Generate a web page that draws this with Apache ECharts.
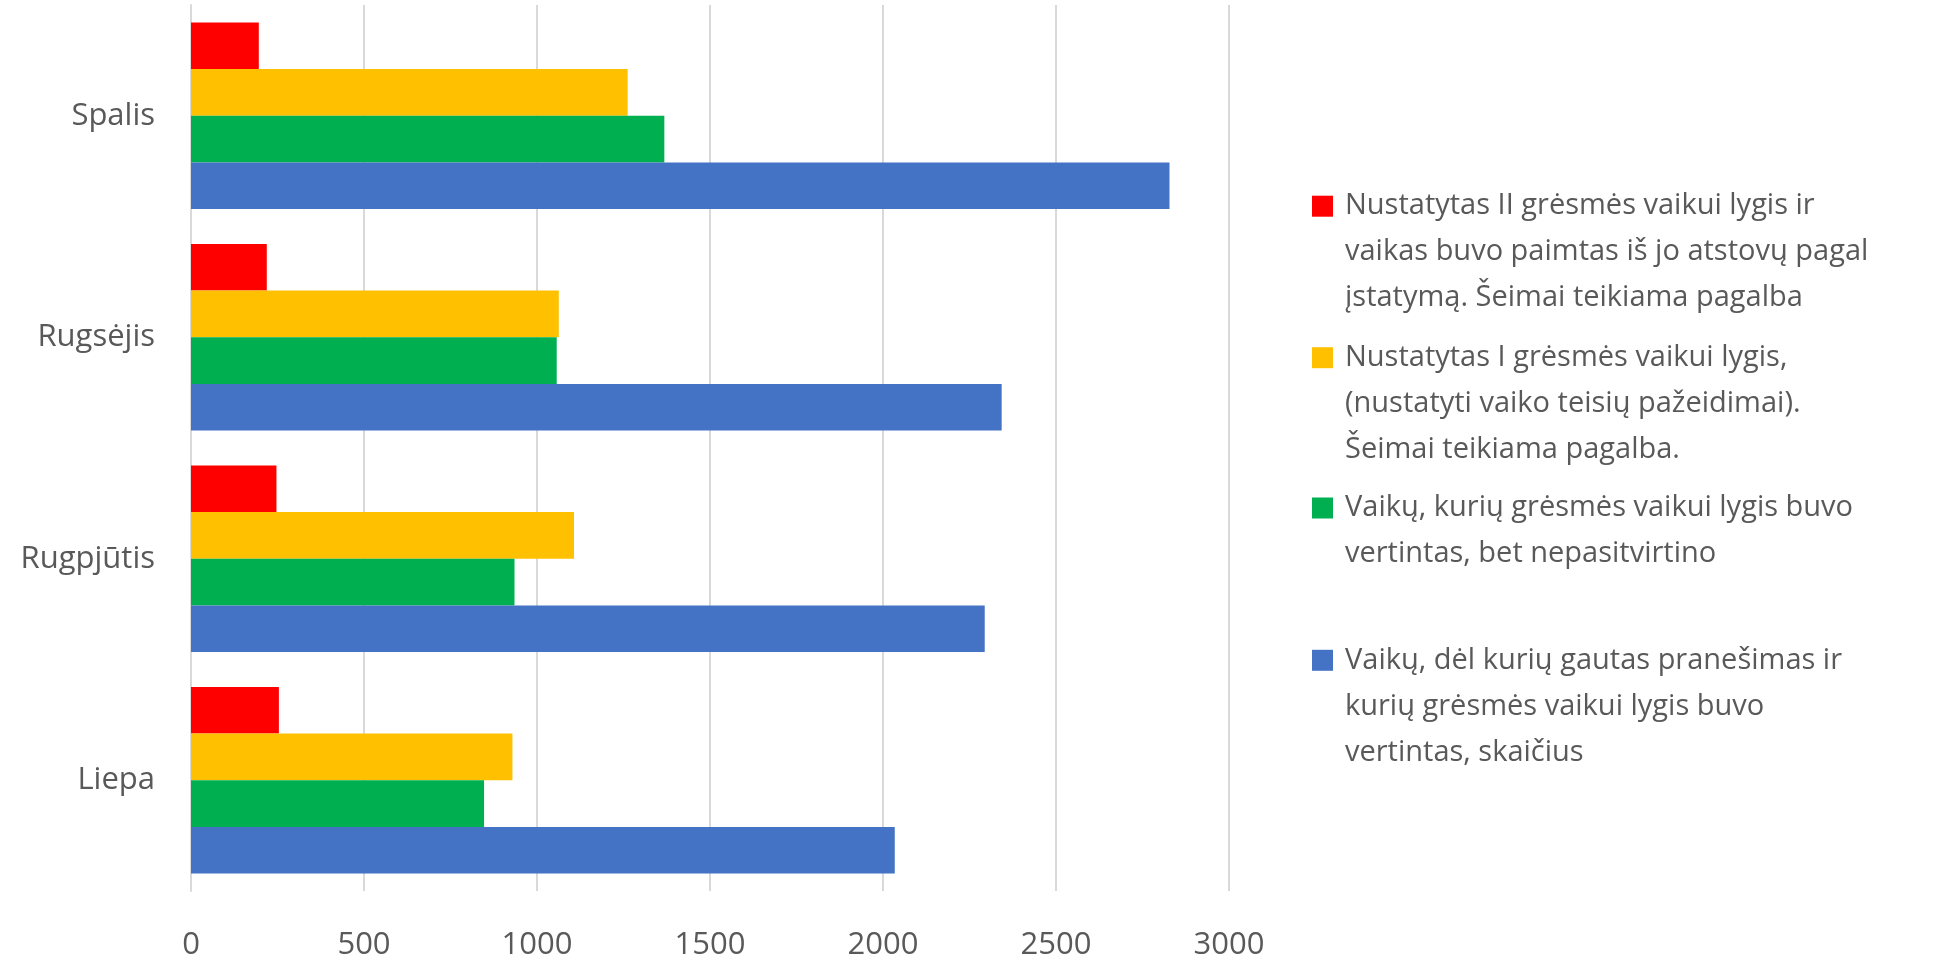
<!DOCTYPE html>
<html>
<head>
<meta charset="utf-8">
<script src="https://cdn.jsdelivr.net/npm/echarts@6/dist/echarts.min.js"></script>
<style>
html,body{margin:0;padding:0;background:#fff;}
#chart{width:1939px;height:961px;}
</style>
</head>
<body>
<div id="chart"></div>
<script>
const categories = ['Liepa', 'Rugpjūtis', 'Rugsėjis', 'Spalis'];
const xTicks = [0, 500, 1000, 1500, 2000, 2500, 3000];

const seriesNames = [
  'Nustatytas II grėsmės vaikui lygis ir\nvaikas buvo paimtas iš jo atstovų pagal\nįstatymą. Šeimai teikiama pagalba',
  'Nustatytas I grėsmės vaikui lygis,\n(nustatyti vaiko teisių pažeidimai).\nŠeimai teikiama pagalba.',
  'Vaikų, kurių grėsmės vaikui lygis buvo\nvertintas, bet nepasitvirtino',
  'Vaikų, dėl kurių gautas pranešimas ir\nkurių grėsmės vaikui lygis buvo\nvertintas, skaičius'
];
const redValues    = [254, 247, 219, 196];
const yellowValues = [929, 1107, 1063, 1262];
const greenValues  = [847, 935, 1057, 1368];
const blueValues   = [2034, 2294, 2343, 2828];

const colors = ['#FF0000', '#FFC000', '#00B050', '#4472C4'];
const values = [redValues, yellowValues, greenValues, blueValues];

const FONT = '"Open Sans", "Noto Sans", sans-serif';
const TXT = '#595959';
const LH = 46;

const chart = echarts.init(document.getElementById('chart'), null, {renderer: 'canvas'});

const series = values.map((v, i) => ({
  name: seriesNames[i],
  type: 'bar',
  data: v,
  itemStyle: {color: colors[i]},
  barGap: '0%',
  barCategoryGap: '15.8%',
  emphasis: {disabled: true},
  animation: false
}));

// legend entries: icon centre y positions
const iconCenters = [206.2, 357.7, 508, 660.3];
const legends = seriesNames.map((nm, k) => {
  const nLines = nm.split('\n').length;
  const totalLines = 2 * nLines - 1;
  const blockH = totalLines * LH;
  const prefix = '\n'.repeat(nLines - 1);
  return {
    data: [nm],
    orient: 'vertical',
    left: 1312,
    top: iconCenters[k] - blockH / 2,
    padding: 0,
    itemWidth: 21,
    itemHeight: 21,
    selectedMode: false,
    icon: 'rect',
    formatter: (name) => prefix + name,
    textStyle: {
      fontFamily: FONT,
      fontSize: 29,
      color: TXT,
      lineHeight: LH,
      padding: [0, 0, 0, 7]
    }
  };
});

chart.setOption({
  backgroundColor: '#ffffff',
  animation: false,
  grid: {left: 191, right: 710, top: 5, bottom: 68, containLabel: false},
  legend: legends,
  xAxis: {
    type: 'value',
    min: xTicks[0],
    max: xTicks[xTicks.length - 1],
    interval: xTicks[1] - xTicks[0],
    axisLine: {show: false},
    axisTick: {show: false},
    splitLine: {show: true, lineStyle: {color: '#D9D9D9', width: 2}},
    axisLabel: {fontFamily: FONT, fontSize: 31, color: TXT, margin: 39, formatter: (v) => String(v)}
  },
  yAxis: {
    type: 'category',
    data: categories,
    axisLine: {show: true, lineStyle: {color: '#D9D9D9', width: 2}},
    axisTick: {show: false},
    axisLabel: {fontFamily: FONT, fontSize: 31, color: TXT, margin: 36}
  },
  series: series
});
</script>
</body>
</html>
